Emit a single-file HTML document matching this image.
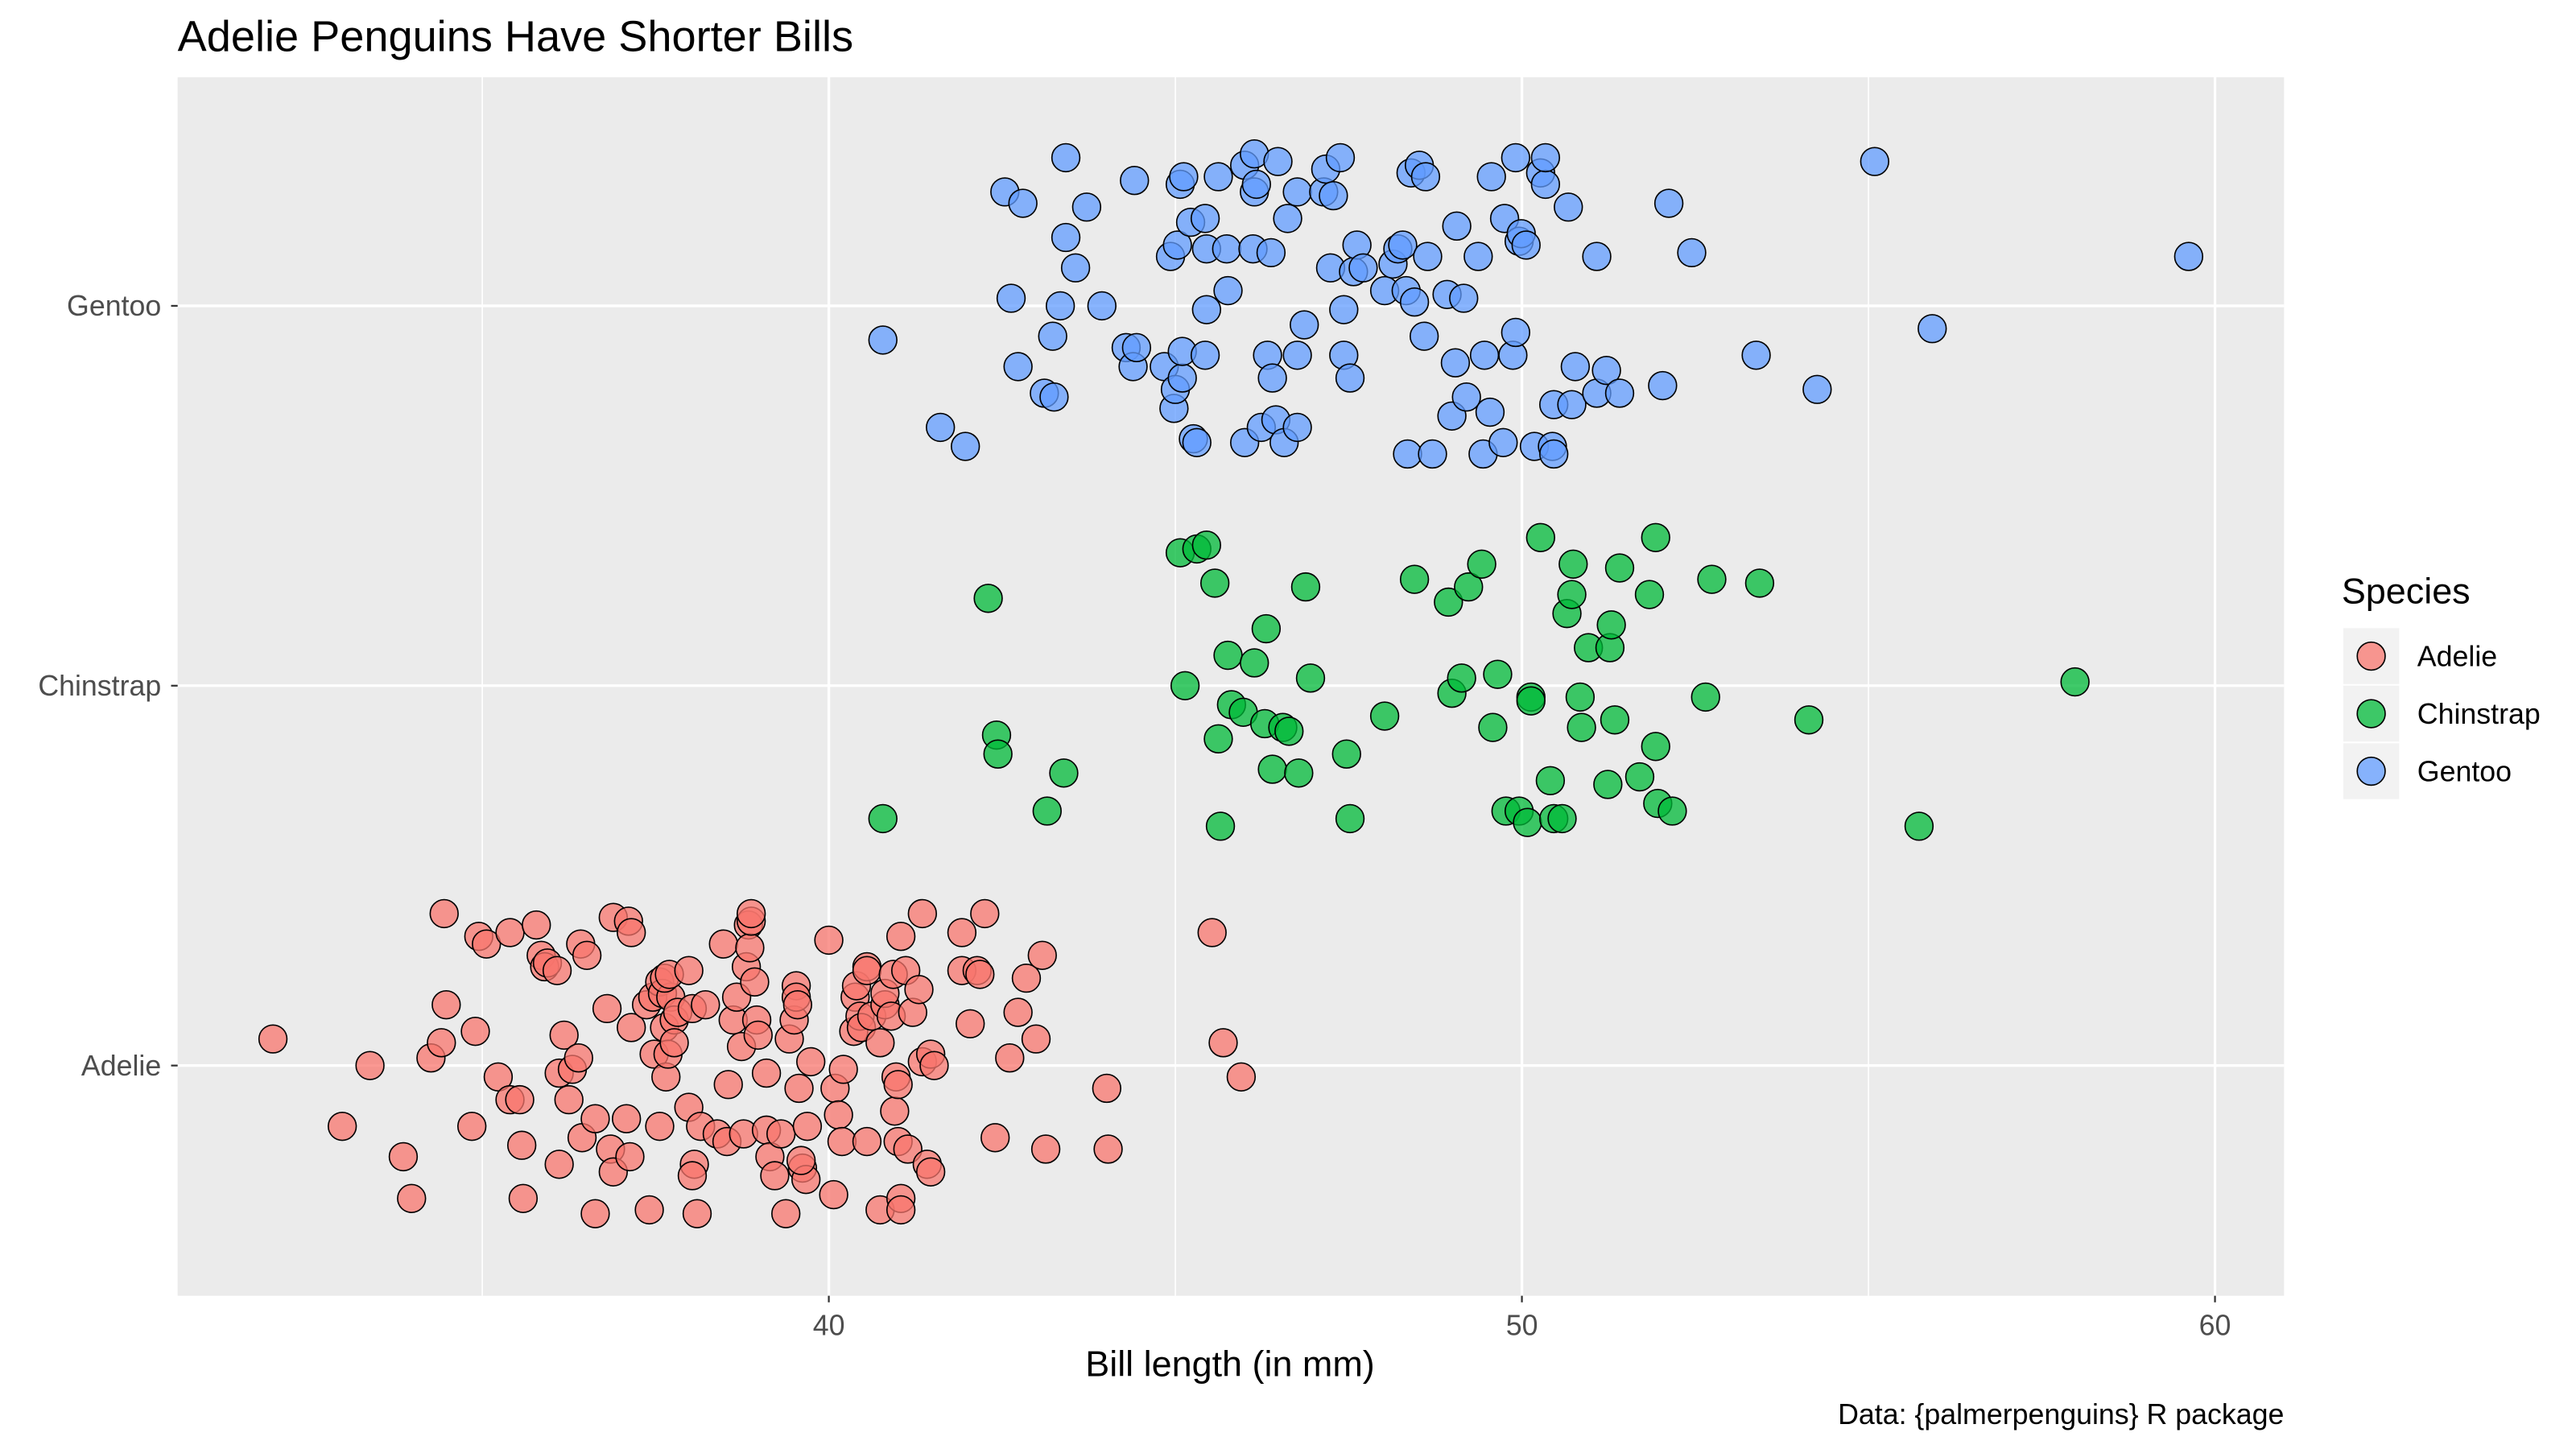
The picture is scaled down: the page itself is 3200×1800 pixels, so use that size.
<!DOCTYPE html>
<html>
<head>
<meta charset="utf-8">
<style>
html,body{margin:0;padding:0;background:#fff;}
svg{display:block;}
text{font-family:"Liberation Sans",sans-serif;}
</style>
</head>
<body>
<svg id="chart" width="3200" height="1800" viewBox="0 0 1566.5 881.2" xmlns="http://www.w3.org/2000/svg">
  <rect x="0" y="0" width="1566.5" height="881.2" fill="#fff"/>
  <rect x="108" y="47" width="1281" height="741" fill="#EBEBEB"/>
  <g id="grid"></g>
  <g id="points"></g>
  <g id="axes"></g>
  <text x="108" y="31" font-size="26.5" fill="#000">Adelie Penguins Have Shorter Bills</text>
  <text x="748" y="837" font-size="22" text-anchor="middle" fill="#000">Bill length (in mm)</text>
  <text x="1389" y="866" font-size="17.5" text-anchor="end" fill="#000">Data: {palmerpenguins} R package</text>
  <g id="legend">
    <text x="1424" y="367" font-size="22" fill="#000">Species</text>
  </g>
</svg>
<script>
const species = ["Adelie", "Chinstrap", "Gentoo"];
const colors = ["#F8766D", "#00BA38", "#619CFF"];
const xTicks = [40, 50, 60];
const xMinor = [35, 45, 55];

const adelieX = [31.98,33.38,32.98,33.86,33.98,34.26,34.41,34.48,34.45,34.9,34.95,35.06,34.85,35.23,35.4,35.54,35.57,35.59,35.4,35.78,35.85,35.9,35.94,36.08,36.18,36.11,36.3,36.25,36.39,36.42,36.51,36.44,36.11,36.63,36.63,36.8,36.85,36.89,36.89,37.11,37.15,37.08,37.15,37.13,37.37,37.41,37.48,37.46,37.56,37.6,37.65,37.63,37.68,37.72,37.77,37.77,37.82,37.63,37.7,37.56,37.98,38.03,37.98,38.06,38.03,38.1,38.15,38.22,38.39,38.48,38.53,38.55,38.62,38.67,38.77,38.74,38.81,38.84,38.86,38.88,38.88,38.93,38.96,38.98,39.1,39.1,39.15,39.22,39.31,39.38,39.43,39.5,39.53,39.53,39.55,39.57,39.62,39.67,39.6,39.69,39.74,40.0,40.09,40.14,40.19,40.21,40.07,40.36,40.38,40.4,40.45,40.47,40.55,40.55,40.55,40.62,40.74,40.74,40.81,40.81,40.9,40.93,40.97,40.95,41.0,41.0,41.04,41.04,41.04,41.11,41.14,41.21,41.3,41.35,41.35,41.42,41.47,41.52,41.47,41.92,41.92,42.04,42.14,42.18,42.25,42.4,42.61,42.73,42.85,42.99,43.08,43.13,44.01,44.03,45.53,45.69,45.95];
const adelieJitter = [0.07,0,-0.16,-0.24,-0.35,0.02,0.06,0.16,0.40,0.09,0.34,0.32,-0.16,-0.03,-0.09,-0.09,-0.21,-0.35,0.35,0.37,0.29,0.26,0.27,0.25,0.08,-0.02,-0.01,-0.09,0.02,0.32,0.29,-0.19,-0.26,-0.14,-0.39,0.15,-0.22,-0.28,0.39,0.38,0.35,-0.14,0.1,-0.24,0.16,-0.38,0.03,0.18,0.22,0.19,-0.03,0.1,0.03,0.18,0.12,0.06,0.14,0.23,0.24,-0.16,0.25,0.15,-0.11,-0.26,-0.29,-0.39,-0.16,0.16,-0.18,0.32,-0.2,-0.05,0.12,0.18,-0.18,0.05,0.26,0.37,0.31,0.38,0.40,0.22,0.12,0.08,-0.17,-0.02,-0.24,-0.29,-0.18,-0.39,0.07,0.12,0.21,0.18,0.16,-0.06,-0.27,-0.3,-0.25,-0.16,0.01,0.33,-0.06,-0.13,-0.2,-0.01,-0.34,0.09,0.18,0.21,0.13,0.1,0.26,0.25,-0.2,0.13,0.06,-0.38,0.16,0.19,0.13,0.24,-0.03,-0.12,-0.05,-0.2,-0.35,-0.38,0.34,0.25,-0.22,0.14,0.2,0.4,0.01,-0.26,0.03,0,-0.28,0.35,0.25,0.11,0.25,0.24,0.4,-0.19,0.02,0.14,0.23,0.07,0.29,-0.22,-0.06,-0.22,0.35,0.06,-0.03];

const chinstrapX = [40.78,42.3,42.42,42.44,43.15,43.39,45.07,45.14,45.31,45.45,45.57,45.62,45.65,45.76,45.81,45.98,46.14,46.29,46.31,46.4,46.55,46.64,46.78,46.88,46.95,47.47,47.52,48.02,48.45,48.94,48.99,49.13,49.23,49.42,49.58,49.65,49.77,49.96,50.08,50.13,50.13,50.27,50.41,50.46,50.58,50.65,50.72,50.74,50.84,50.86,50.96,51.24,51.27,51.29,51.34,51.41,51.7,51.84,51.93,51.93,51.96,52.17,52.65,52.74,53.43,54.14,55.73,57.98];
const chinstrapJitter = [-0.35,0.23,-0.13,-0.18,-0.33,-0.23,0.35,0,0.36,0.37,0.27,-0.14,-0.37,0.08,-0.05,-0.07,0.06,-0.1,0.15,-0.22,-0.11,-0.12,-0.23,0.26,0.02,-0.18,-0.35,-0.08,0.28,0.22,-0.02,0.02,0.26,0.32,-0.11,0.03,-0.33,-0.33,-0.36,-0.03,-0.04,0.39,-0.25,-0.35,-0.35,0.19,0.24,0.32,-0.03,-0.11,0.1,-0.26,0.1,0.16,-0.09,0.31,-0.24,0.24,0.39,-0.16,-0.31,-0.33,-0.03,0.28,0.27,-0.09,-0.37,0.01];

const gentooX = [40.78,41.61,41.97,42.54,42.63,42.73,42.8,43.11,43.23,43.25,43.34,43.42,43.42,43.56,43.72,43.94,44.29,44.39,44.41,44.44,44.84,44.93,44.98,45.0,45.03,45.07,45.1,45.1,45.12,45.22,45.26,45.31,45.43,45.43,45.45,45.45,45.62,45.74,45.76,46.0,46.0,46.12,46.14,46.14,46.17,46.24,46.33,46.38,46.4,46.45,46.48,46.57,46.62,46.76,46.76,46.76,46.86,47.14,47.17,47.24,47.28,47.38,47.43,47.43,47.52,47.57,47.62,47.71,48.02,48.14,48.21,48.28,48.33,48.35,48.45,48.4,48.52,48.59,48.61,48.64,48.71,48.92,48.99,49.04,49.06,49.16,49.2,49.37,49.44,49.46,49.54,49.56,49.73,49.75,49.87,49.91,49.91,49.96,49.99,50.06,50.18,50.27,50.34,50.34,50.44,50.46,50.46,50.67,50.72,50.77,51.08,51.08,51.22,51.41,52.03,52.12,52.45,53.38,54.26,55.09,55.92,59.62];
const gentooJitter = [-0.09,-0.32,-0.37,0.3,0.02,-0.16,0.27,-0.23,-0.08,-0.24,0,0.18,0.39,0.1,0.26,0,-0.11,-0.16,0.33,-0.11,-0.16,0.13,-0.27,-0.22,0.16,0.32,-0.19,-0.12,0.34,0.22,-0.35,-0.36,0.23,-0.13,0.15,-0.01,0.34,0.15,0.04,-0.36,0.37,0.15,0.3,0.4,0.32,-0.32,-0.13,0.14,-0.19,-0.3,0.38,-0.36,0.23,-0.32,-0.13,0.3,-0.05,0.3,0.36,0.1,0.29,0.39,-0.01,-0.13,-0.19,0.09,0.16,0.1,0.04,0.11,0.15,0.16,0.04,-0.39,0.01,0.35,0.37,-0.08,0.34,0.13,-0.39,0.03,-0.29,-0.15,0.21,0.02,-0.24,0.13,-0.39,-0.13,-0.28,0.34,-0.36,0.23,-0.13,-0.07,0.39,0.17,0.19,0.16,-0.37,0.35,0.32,0.39,-0.37,-0.39,-0.26,0.26,-0.26,-0.16,0.13,-0.23,-0.17,-0.23,-0.21,0.27,0.14,-0.13,-0.22,0.38,-0.06,0.13];

const NS = "http://www.w3.org/2000/svg";
const panel = {left:108, right:1389, top:47, bottom:788};
function xScale(v){ return 504 + (v - 40) * 42.15; }
function yScale(catIndex){ return 648 - catIndex * 231; }
function mk(tag, attrs, parent){
  const e = document.createElementNS(NS, tag);
  for (const k in attrs) e.setAttribute(k, attrs[k]);
  parent.appendChild(e);
  return e;
}
const grid = document.getElementById('grid');
const axes = document.getElementById('axes');
const pts = document.getElementById('points');
const legend = document.getElementById('legend');

xMinor.forEach(v => {
  const l = mk('line', {x1:xScale(v), x2:xScale(v), y1:panel.top, y2:panel.bottom, stroke:'#fff', 'stroke-width':0.8}, grid);
  
  
});
xTicks.forEach(v => {
  const l = mk('line', {x1:xScale(v), x2:xScale(v), y1:panel.top, y2:panel.bottom, stroke:'#fff', 'stroke-width':1.6}, grid);
  
  
  const t = mk('line', {x1:xScale(v), x2:xScale(v), y1:panel.bottom, y2:panel.bottom+4, stroke:'#333', 'stroke-width':1.1}, axes);
  
  
  const tx = mk('text', {x:xScale(v), y:812, 'font-size':17.5, 'text-anchor':'middle', fill:'#4d4d4d'}, axes);
  tx.textContent = v;
  
  
});
species.forEach((s, i) => {
  const y = yScale(i);
  const l = mk('line', {x1:panel.left, x2:panel.right, y1:y, y2:y, stroke:'#fff', 'stroke-width':1.6}, grid);
  
  
  const t = mk('line', {x1:panel.left-4, x2:panel.left, y1:y, y2:y, stroke:'#333', 'stroke-width':1.1}, axes);
  
  
  const tx = mk('text', {x:98, y:y+6, 'font-size':17.5, 'text-anchor':'end', fill:'#4d4d4d'}, axes);
  tx.textContent = s;
  
  
});

const seriesX = [adelieX, chinstrapX, gentooX];
const seriesJ = [adelieJitter, chinstrapJitter, gentooJitter];
seriesX.forEach((xs, si) => {
  xs.forEach((v, k) => {
    const c = mk('circle', {cx:xScale(v), cy:yScale(si + seriesJ[si][k]), r:8.5, fill:colors[si], 'fill-opacity':0.75, stroke:'#000', 'stroke-width':0.8}, pts);
    
    
  });
});

species.forEach((s, i) => {
  const cy = 399 + i * 35;
  const bg = mk('rect', {x:1425, y:cy-17, width:34, height:34, fill:'#F2F2F2'}, legend);
  
  
  const c = mk('circle', {cx:1442, cy:cy, r:8.5, fill:colors[i], 'fill-opacity':0.75, stroke:'#000', 'stroke-width':0.8}, legend);
  
  
  const t = mk('text', {x:1470, y:cy+6, 'font-size':17.5, fill:'#000'}, legend);
  t.textContent = s;
  
  
});
</script>
</body>
</html>
